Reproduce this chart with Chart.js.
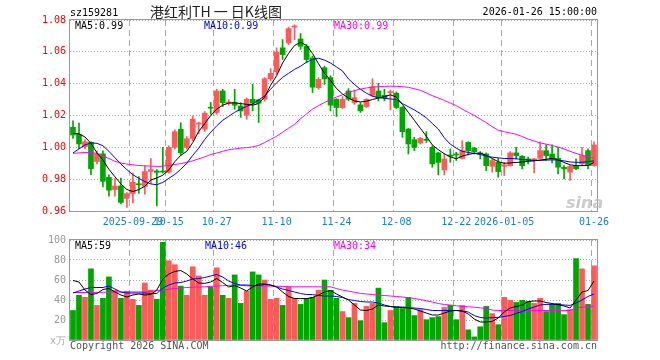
<!DOCTYPE html>
<html>
<head>
<meta charset="utf-8">
<script src="https://cdn.jsdelivr.net/npm/chart.js@4.4.1/dist/chart.umd.min.js"></script>
<style>
  body { margin: 0; background: #fff; }
  #wrap { position: relative; width: 660px; height: 360px; overflow: hidden; font-family: "DejaVu Sans Mono", monospace; font-size: 10px; }
  #wrap canvas { position: absolute; left: 0; }
  .t { position: absolute; line-height: 10px; white-space: nowrap; }
</style>
</head>
<body>
<div id="wrap">
  <canvas id="k" width="660" height="235" style="top:0"></canvas>
  <canvas id="v" width="660" height="130" style="top:230px"></canvas>

  <div class="t" style="left:70px;top:8px;color:#000">sz159281</div>
  <div class="t" style="left:150px;top:4px;line-height:15px;font-size:14px;font-family:'Noto Sans CJK SC',sans-serif;color:#222">港红利TH 一 日K线图</div>
  <div class="t" style="right:63px;top:7px;color:#000">2026-01-26 15:00:00</div>

  <div class="t" style="left:75px;top:21px;color:#000">MA5:0.99</div>
  <div class="t" style="left:204px;top:21px;color:#0000ff">MA10:0.99</div>
  <div class="t" style="left:334px;top:21px;color:#ff00ff">MA30:0.99</div>

  <div class="t" style="left:75px;top:241px;color:#000">MA5:59</div>
  <div class="t" style="left:205px;top:241px;color:#0000ff">MA10:46</div>
  <div class="t" style="left:334px;top:241px;color:#ff00ff">MA30:34</div>

  <div class="t" style="left:50px;top:336px;color:#aaa">x万</div>
  <div class="t" style="left:70px;top:341px;color:#555">Copyright 2026 SINA.COM</div>
  <div class="t" style="right:63px;top:341px;color:#555">http://finance.sina.com.cn</div>
  <div class="t" style="left:566px;top:193px;line-height:16px;font:italic bold 16px 'DejaVu Sans',sans-serif;color:rgba(190,190,190,0.8)">sina</div>
</div>

<script>
// trading days shown on the chart
const dates = [
  '2025-09-15','2025-09-16','2025-09-17','2025-09-18','2025-09-19','2025-09-22','2025-09-23','2025-09-24','2025-09-25','2025-09-26',
  '2025-09-29','2025-09-30','2025-10-09','2025-10-10','2025-10-13','2025-10-14','2025-10-15','2025-10-16','2025-10-17','2025-10-20',
  '2025-10-21','2025-10-22','2025-10-23','2025-10-24','2025-10-27','2025-10-28','2025-10-29','2025-10-30','2025-10-31','2025-11-03',
  '2025-11-04','2025-11-05','2025-11-06','2025-11-07','2025-11-10','2025-11-11','2025-11-12','2025-11-13','2025-11-14','2025-11-17',
  '2025-11-18','2025-11-19','2025-11-20','2025-11-21','2025-11-24','2025-11-25','2025-11-26','2025-11-27','2025-11-28','2025-12-01',
  '2025-12-02','2025-12-03','2025-12-04','2025-12-05','2025-12-08','2025-12-09','2025-12-10','2025-12-11','2025-12-12','2025-12-15',
  '2025-12-16','2025-12-17','2025-12-18','2025-12-19','2025-12-22','2025-12-23','2025-12-24','2025-12-25','2025-12-26','2025-12-29',
  '2025-12-30','2025-12-31','2026-01-05','2026-01-06','2026-01-07','2026-01-08','2026-01-09','2026-01-12','2026-01-13','2026-01-14',
  '2026-01-15','2026-01-16','2026-01-19','2026-01-20','2026-01-21','2026-01-22','2026-01-23','2026-01-26'
];

const tickDates = ['2025-09-29', '2025-10-15', '2025-10-27', '2025-11-10', '2025-11-24', '2025-12-08', '2025-12-22', '2026-01-05', '2026-01-26'];
const tickText = ['2025-09-29', '10-15', '10-27', '11-10', '11-24', '12-08', '12-22', '2026-01-05', '01-26'];

const opens = [
  1.0126,1.0083,1.0004,1.0031,0.9911,0.9959,0.9811,0.9735,0.9757,0.9679,
  0.9710,0.9770,0.9754,0.9849,0.9851,0.9850,0.9844,1.0000,1.0114,1.0000,
  1.0056,1.0146,1.0115,1.0252,1.0219,1.0354,1.0277,1.0281,1.0260,1.0202,
  1.0302,1.0298,1.0302,1.0431,1.0475,1.0625,1.0656,1.0756,1.0681,1.0635,
  1.0562,1.0375,1.0500,1.0438,1.0302,1.0250,1.0354,1.0281,1.0267,1.0256,
  1.0327,1.0354,1.0327,1.0344,1.0340,1.0250,1.0115,1.0048,1.0027,1.0050,
  1.0000,0.9965,0.9858,0.9952,0.9958,0.9931,1.0031,0.9994,0.9965,0.9958,
  0.9881,0.9906,0.9881,0.9885,0.9965,0.9944,0.9927,0.9921,0.9931,0.9979,
  0.9958,0.9931,0.9875,0.9844,0.9885,0.9896,0.9979,0.9885
];
const highs = [
  1.0166,1.0152,1.0048,1.0035,0.9978,0.9978,0.9828,0.9803,0.9807,0.9716,
  0.9838,0.9817,0.9885,0.9930,0.9860,1.0000,1.0010,1.0110,1.0154,1.0068,
  1.0197,1.0158,1.0225,1.0282,1.0365,1.0365,1.0300,1.0365,1.0281,1.0310,
  1.0396,1.0302,1.0438,1.0494,1.0625,1.0677,1.0756,1.0770,1.0715,1.0646,
  1.0573,1.0438,1.0510,1.0450,1.0306,1.0319,1.0369,1.0360,1.0281,1.0306,
  1.0431,1.0402,1.0365,1.0360,1.0348,1.0256,1.0119,1.0063,1.0063,1.0098,
  1.0010,0.9969,0.9958,0.9990,0.9969,1.0042,1.0035,1.0000,0.9973,0.9965,
  0.9927,0.9931,0.9906,0.9973,1.0000,0.9948,0.9938,0.9931,1.0035,1.0015,
  1.0015,1.0000,0.9885,0.9885,0.9927,1.0000,0.9990,1.0035
];
const lows = [
  1.0056,0.9992,0.9990,0.9828,0.9896,0.9752,0.9693,0.9693,0.9644,0.9622,
  0.9650,0.9710,0.9706,0.9773,0.9632,0.9838,0.9838,0.9990,0.9952,0.9990,
  1.0042,1.0085,1.0100,1.0208,1.0208,1.0256,1.0265,1.0240,1.0188,1.0177,
  1.0229,1.0156,1.0290,1.0417,1.0458,1.0552,1.0646,1.0677,1.0615,1.0531,
  1.0344,1.0365,1.0396,1.0229,1.0194,1.0244,1.0292,1.0270,1.0219,1.0250,
  1.0319,1.0292,1.0292,1.0235,1.0244,1.0063,0.9958,0.9979,1.0020,1.0031,
  0.9875,0.9827,0.9827,0.9906,0.9917,0.9927,0.9952,0.9958,0.9927,0.9854,
  0.9844,0.9813,0.9823,0.9881,0.9927,0.9865,0.9896,0.9840,0.9927,0.9917,
  0.9902,0.9833,0.9802,0.9792,0.9860,0.9885,0.9865,0.9881
];
const closes = [
  1.0077,1.0021,1.0035,0.9865,0.9960,0.9787,0.9731,0.9757,0.9654,0.9709,
  0.9780,0.9765,0.9848,0.9860,0.9843,0.9845,1.0000,1.0098,0.9966,1.0054,
  1.0177,1.0152,1.0215,1.0246,1.0354,1.0281,1.0285,1.0265,1.0229,1.0302,
  1.0277,1.0277,1.0431,1.0465,1.0598,1.0583,1.0746,1.0762,1.0635,1.0552,
  1.0378,1.0427,1.0430,1.0265,1.0250,1.0302,1.0302,1.0312,1.0229,1.0302,
  1.0381,1.0312,1.0312,1.0348,1.0250,1.0098,1.0021,1.0000,1.0056,1.0044,
  0.9896,0.9906,0.9927,0.9944,0.9952,0.9979,0.9979,0.9973,0.9958,0.9885,
  0.9917,0.9848,0.9890,0.9965,0.9948,0.9885,0.9917,0.9927,0.9979,0.9948,
  0.9927,0.9875,0.9865,0.9881,0.9865,0.9948,0.9885,1.0015
];

// moving averages
const ma5 = [
  1.0088,1.0085,1.0065,1.0025,0.9965,0.9920,0.9862,0.9815,0.9770,0.9735,
  0.9722,0.9735,0.9755,0.9795,0.9808,0.9825,0.9858,0.9910,0.9950,0.9975,
  1.0030,1.0100,1.0150,1.0200,1.0240,1.0265,1.0278,1.0280,1.0275,1.0270,
  1.0265,1.0275,1.0315,1.0390,1.0450,1.0530,1.0590,1.0640,1.0660,1.0640,
  1.0590,1.0525,1.0465,1.0420,1.0370,1.0335,1.0310,1.0292,1.0285,1.0290,
  1.0300,1.0310,1.0318,1.0330,1.0315,1.0270,1.0220,1.0170,1.0120,1.0070,
  1.0015,0.9985,0.9960,0.9940,0.9928,0.9945,0.9955,0.9962,0.9964,0.9950,
  0.9930,0.9910,0.9900,0.9902,0.9905,0.9908,0.9912,0.9915,0.9920,0.9925,
  0.9930,0.9922,0.9905,0.9890,0.9885,0.9885,0.9886,0.9905
];
const ma10 = [
  0.9965,0.9990,1.0015,1.0028,1.0025,1.0010,0.9975,0.9935,0.9895,0.9860,
  0.9828,0.9805,0.9785,0.9770,0.9765,0.9780,0.9805,0.9830,0.9862,0.9900,
  0.9950,0.9995,1.0050,1.0095,1.0135,1.0170,1.0195,1.0220,1.0240,1.0258,
  1.0272,1.0298,1.0322,1.0365,1.0405,1.0440,1.0465,1.0490,1.0510,1.0535,
  1.0552,1.0560,1.0548,1.0530,1.0505,1.0480,1.0430,1.0395,1.0365,1.0340,
  1.0322,1.0312,1.0308,1.0304,1.0300,1.0275,1.0255,1.0235,1.0212,1.0185,
  1.0150,1.0115,1.0060,1.0020,0.9995,0.9975,0.9968,0.9962,0.9955,0.9945,
  0.9938,0.9934,0.9930,0.9930,0.9928,0.9924,0.9920,0.9918,0.9918,0.9920,
  0.9921,0.9920,0.9915,0.9908,0.9906,0.9906,0.9910,0.9915
];
const ma30 = [
  0.9962,0.9965,0.9968,0.9968,0.9962,0.9945,0.9930,0.9912,0.9902,0.9895,
  0.9890,0.9886,0.9884,0.9882,0.9880,0.9882,0.9886,0.9892,0.9898,0.9906,
  0.9915,0.9928,0.9940,0.9955,0.9964,0.9975,0.9985,0.9990,0.9995,0.9998,
  1.0003,1.0012,1.0030,1.0050,1.0070,1.0095,1.0120,1.0145,1.0180,1.0210,
  1.0240,1.0262,1.0282,1.0300,1.0316,1.0330,1.0345,1.0356,1.0366,1.0373,
  1.0378,1.0381,1.0383,1.0384,1.0383,1.0381,1.0377,1.0368,1.0358,1.0342,
  1.0325,1.0310,1.0295,1.0278,1.0262,1.0240,1.0220,1.0200,1.0178,1.0155,
  1.0130,1.0108,1.0098,1.0090,1.0082,1.0068,1.0052,1.0040,1.0028,1.0020,
  1.0012,1.0002,0.9990,0.9975,0.9962,0.9950,0.9940,0.9932
];

// volume, 万
const volume = [
  29.5,44.7,42.7,71.2,34.6,41.7,63.1,49.8,41.7,48.8,
  40.7,34.6,57.0,49.8,40.7,97.6,79.3,75.3,53.9,44.7,
  73.2,64.1,44.7,52.9,72.2,44.7,41.7,65.1,36.6,48.8,
  68.1,65.1,60.0,40.7,41.7,34.6,52.9,41.7,35.6,41.7,
  42.7,49.8,60.0,49.8,41.7,28.5,22.4,36.6,19.3,33.6,
  36.6,51.9,17.3,29.5,33.6,31.5,42.7,24.4,30.5,20.3,
  22.4,23.4,32.5,34.6,20.3,34.6,10.2,3.1,13.2,33.6,
  26.4,15.3,42.7,39.7,37.6,39.7,38.6,36.6,41.7,28.5,
  35.6,36.6,25.4,30.5,81.4,71.2,35.6,74.2
];
const volMa5 = [
  59.5,58.0,50.0,45.5,46.5,50.5,51.5,48.0,45.0,43.0,
  45.0,46.0,45.0,45.5,50.0,61.0,66.0,68.5,69.5,66.0,
  61.0,57.0,56.6,58.0,61.5,57.5,53.0,54.5,52.0,49.0,
  53.0,56.0,56.0,55.0,53.0,48.0,43.5,41.5,41.4,41.4,
  42.5,45.0,48.0,49.5,46.0,43.0,40.0,35.0,30.0,29.5,
  31.0,35.0,34.0,33.5,32.5,32.5,32.0,31.0,29.0,27.0,
  25.0,25.0,27.0,29.0,29.5,29.0,26.0,21.0,18.0,18.0,
  18.5,22.0,28.0,32.0,33.5,35.0,38.5,39.0,39.0,37.5,
  36.5,35.5,34.0,32.0,40.0,48.0,49.5,59.0
];
const volMa10 = [
  47.0,49.0,51.0,52.5,52.5,52.5,54.0,51.0,48.0,47.0,
  47.0,47.0,47.0,46.5,46.5,52.0,55.0,57.0,57.5,59.0,
  61.0,61.5,62.5,64.0,65.5,63.0,59.0,56.5,55.0,55.0,
  54.5,54.5,55.5,55.0,53.0,51.0,49.5,48.0,46.5,45.5,
  45.4,44.5,44.0,44.0,43.5,42.5,40.5,39.5,38.5,38.0,
  38.0,37.0,35.0,33.5,33.0,33.0,32.5,32.0,31.5,30.5,
  29.5,29.5,29.5,29.5,29.5,29.0,28.0,24.5,22.5,22.0,
  22.3,22.7,23.5,24.5,26.5,28.5,31.0,33.0,35.0,35.6,
  35.6,35.4,35.0,34.6,37.0,40.0,43.5,46.0
];
const volMa30 = [
  47.5,47.5,47.5,47.5,47.5,47.8,48.0,48.0,48.0,48.0,
  48.1,48.1,48.2,48.5,49.5,50.0,50.8,51.5,52.0,52.5,
  52.8,53.0,53.2,53.6,54.0,54.3,54.6,54.9,54.6,54.3,
  54.0,53.9,53.9,53.9,53.8,53.5,53.3,53.2,53.2,53.2,
  53.2,53.2,53.2,53.2,51.5,50.0,48.8,47.8,46.6,46.0,
  45.5,45.0,44.5,44.0,43.5,43.0,42.3,41.5,40.5,39.3,
  38.0,36.5,35.5,35.0,34.3,33.6,33.2,32.8,32.2,31.3,
  30.0,29.5,29.5,29.5,29.5,29.5,29.5,29.5,29.5,29.5,
  29.5,29.5,29.5,29.5,32.2,32.7,33.2,33.8
];

const UP = '#ff5a5a';
const DOWN = '#00a600';
const colors = closes.map((c, i) => (c >= opens[i] ? UP : DOWN));
const tickIdx = tickDates.map(d => dates.indexOf(d));

Chart.defaults.font.family = '"DejaVu Sans Mono", monospace';
Chart.defaults.font.size = 10;

// gray frame round the plot area
const frame = {
  id: 'frame',
  afterDraw(chart) {
    const { ctx, chartArea: a } = chart;
    ctx.save();
    ctx.strokeStyle = '#999';
    ctx.lineWidth = 1;
    ctx.strokeRect(a.left - 0.5, a.top - 0.5, a.right - a.left + 1, a.bottom - a.top + 1);
    ctx.restore();
  }
};

function maLine(data, color) {
  return { type: 'line', data, borderColor: color, borderWidth: 1, pointRadius: 0, tension: 0, order: 0 };
}

function xAxis(showTicks, height) {
  return {
    offset: true,
    grid: {
      offset: true,
      drawTicks: false,
      color: ctx => (tickIdx.includes(ctx.index) ? '#aaa' : 'rgba(0,0,0,0)')
    },
    border: { display: false, dash: [6, 4] },
    ticks: {
      display: showTicks,
      autoSkip: false,
      maxRotation: 0,
      padding: 5,
      color: '#1a80d0',
      callback: (v, i) => {
        const k = tickIdx.indexOf(i);
        return k >= 0 ? tickText[k] : '';
      }
    },
    afterFit: s => { s.height = height; }
  };
}

new Chart(document.getElementById('k'), {
  type: 'bar',
  data: {
    labels: dates,
    datasets: [
      maLine(ma5, '#000000'),
      maLine(ma10, '#0000ff'),
      maLine(ma30, '#ff00ff'),
      {
        data: lows.map((l, i) => [l, highs[i]]),
        backgroundColor: colors,
        barThickness: 1,
        grouped: false,
        minBarLength: 1,
        order: 2
      },
      {
        data: opens.map((o, i) => [o, closes[i]]),
        backgroundColor: colors,
        barThickness: 5,
        grouped: false,
        minBarLength: 1,
        order: 1
      }
    ]
  },
  options: {
    responsive: false,
    animation: false,
    layout: { padding: { left: 0, right: 63, top: 20, bottom: 0 } },
    plugins: { legend: { display: false }, tooltip: { enabled: false } },
    scales: {
      x: xAxis(true, 24),
      y: {
        min: 0.96,
        max: 1.08,
        ticks: { stepSize: 0.02, color: '#ff0000', padding: 4, callback: v => v.toFixed(2) },
        grid: { color: '#aaa', drawTicks: false },
        border: { display: false, dash: [1, 2] },
        afterFit: s => { s.width = 70; }
      }
    }
  },
  plugins: [frame]
});

new Chart(document.getElementById('v'), {
  type: 'bar',
  data: {
    labels: dates,
    datasets: [
      maLine(volMa5, '#000000'),
      maLine(volMa10, '#0000ff'),
      maLine(volMa30, '#ff00ff'),
      { data: volume, backgroundColor: colors, barThickness: 5, order: 1 }
    ]
  },
  options: {
    responsive: false,
    animation: false,
    layout: { padding: { left: 0, right: 63, top: 10, bottom: 0 } },
    plugins: { legend: { display: false }, tooltip: { enabled: false } },
    scales: {
      x: xAxis(false, 20),
      y: {
        min: 0,
        max: 100,
        ticks: { stepSize: 20, color: '#999', padding: 4, callback: v => (v === 0 ? '' : v) },
        grid: { color: '#aaa', drawTicks: false },
        border: { display: false, dash: [1, 2] },
        afterFit: s => { s.width = 70; }
      }
    }
  },
  plugins: [frame]
});
</script>
</body>
</html>
